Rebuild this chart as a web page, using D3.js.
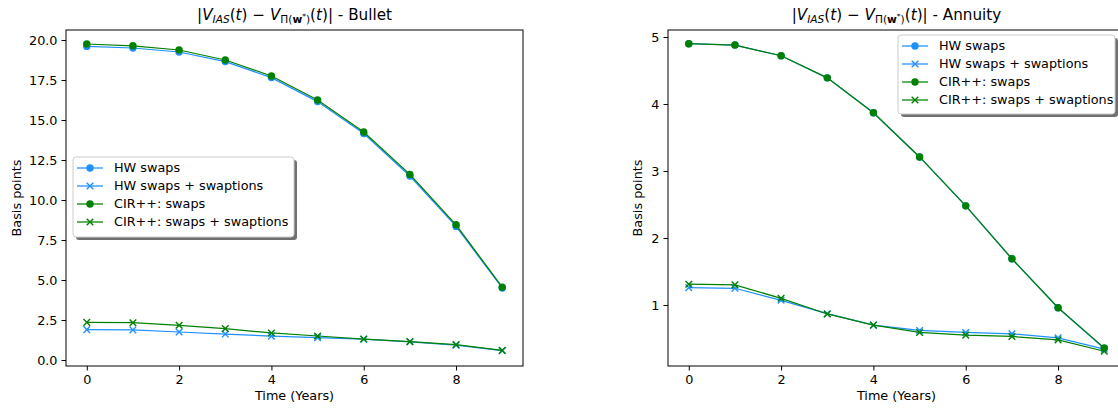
<!DOCTYPE html>
<html>
<head>
<meta charset="utf-8">
<script src="https://cdn.jsdelivr.net/npm/d3@7"></script>
<style>
  body { margin: 0; background: #fff; }
  text { font-family: "DejaVu Sans", sans-serif; fill: #000; }
</style>
</head>
<body>
<svg id="chart" width="1118" height="408"></svg>
<script>
// data
const years = [0, 1, 2, 3, 4, 5, 6, 7, 8, 9];

const bulletHwSwaps = [19.6, 19.5, 19.25, 18.65, 17.65, 16.15, 14.15, 11.5, 8.35, 4.5];
const bulletHwSwaptions = [1.9, 1.88, 1.75, 1.62, 1.49, 1.4, 1.3, 1.14, 0.93, 0.58];
const bulletCirSwaps = [19.75, 19.64, 19.375, 18.75, 17.75, 16.25, 14.25, 11.6, 8.45, 4.55];
const bulletCirSwaptions = [2.35, 2.33, 2.17, 1.96, 1.69, 1.5, 1.31, 1.15, 0.96, 0.6];

const annuityHwSwaps = [4.9, 4.88, 4.72, 4.39, 3.87, 3.21, 2.48, 1.69, 0.96, 0.35];
const annuityHwSwaptions = [1.26, 1.25, 1.07, 0.87, 0.70, 0.62, 0.59, 0.57, 0.51, 0.34];
const annuityCirSwaps = [4.9, 4.88, 4.72, 4.39, 3.87, 3.21, 2.48, 1.69, 0.96, 0.36];
const annuityCirSwaptions = [1.31, 1.30, 1.10, 0.866, 0.70, 0.59, 0.55, 0.53, 0.48, 0.31];

const seriesNames = ['HW swaps', 'HW swaps + swaptions', 'CIR++: swaps', 'CIR++: swaps + swaptions'];
const seriesColors = ['#1e90ff', '#1e90ff', '#008000', '#008000'];
const seriesMarkers = ['circle', 'x', 'circle', 'x'];

const xTicks = [0, 2, 4, 6, 8];
const bulletTicks = [0, 2.5, 5, 7.5, 10, 12.5, 15, 17.5, 20];
const annuityTicks = [1, 2, 3, 4, 5];

const svg = d3.select('#chart');
const fs = 12.8;

const panels = [
    {
        name: 'Bullet', left: 66, right: 523, top: 30, bottom: 366,
        yDomain: [-0.375, 20.625], yTicks: bulletTicks, fmt: d3.format('.1f'),
        series: [bulletHwSwaps, bulletHwSwaptions, bulletCirSwaps, bulletCirSwaptions],
        ylabelX: 17, legend: { x: 73, y: 157, w: 221, h: 80 }
    },
    {
        name: 'Annuity', left: 668, right: 1125, top: 30, bottom: 366,
        yDomain: [0.0896, 5.1045], yTicks: annuityTicks, fmt: d3.format('d'),
        series: [annuityHwSwaps, annuityHwSwaptions, annuityCirSwaps, annuityCirSwaptions],
        ylabelX: 638, legend: { x: 898, y: 35, w: 217, h: 79 }
    }
];

function drawMarker(g, type, x, y, color) {
    if (type === 'circle') {
        g.append('circle').attr('cx', x).attr('cy', y).attr('r', 3.7).attr('fill', color);
    } else {
        const s = 3.3;
        g.append('path')
            .attr('d', `M${x - s},${y - s}L${x + s},${y + s}M${x - s},${y + s}L${x + s},${y - s}`)
            .attr('stroke', color).attr('stroke-width', 1.4).attr('fill', 'none');
    }
}

function drawTitle(cx, suffix) {
    const t = svg.append('text').attr('x', cx).attr('y', 20)
        .attr('text-anchor', 'middle').attr('font-size', 15.2);
    const parts = [
        ['|', {}],
        ['V', { 'font-style': 'italic' }],
        ['IAS', { 'font-style': 'italic', 'font-size': 10.6, dy: 3 }],
        ['(', { dy: -3 }],
        ['t', { 'font-style': 'italic' }],
        [') \u2212 ', {}],
        ['V', { 'font-style': 'italic' }],
        ['\u03a0(', { 'font-size': 10.6, dy: 3 }],
        ['w', { 'font-size': 10.6, 'font-weight': 'bold' }],
        ['*', { 'font-size': 7.5, dy: -4 }],
        [')', { 'font-size': 10.6, dy: 4 }],
        ['(', { dy: -3 }],
        ['t', { 'font-style': 'italic' }],
        [')| - ' + suffix, {}]
    ];
    parts.forEach(([str, attrs]) => {
        const sp = t.append('tspan').text(str);
        Object.entries(attrs).forEach(([k, v]) => sp.attr(k, v));
    });
}

panels.forEach(p => {
    const x = d3.scaleLinear().domain([-0.45, 9.45]).range([p.left, p.right]);
    const y = d3.scaleLinear().domain(p.yDomain).range([p.bottom, p.top]);
    const g = svg.append('g');

    // lines and markers
    p.series.forEach((vals, i) => {
        const line = d3.line().x((d, j) => x(years[j])).y(d => y(d));
        g.append('path').datum(vals).attr('d', line)
            .attr('fill', 'none').attr('stroke', seriesColors[i]).attr('stroke-width', 1.25);
        vals.forEach((v, j) => drawMarker(g, seriesMarkers[i], x(years[j]), y(v), seriesColors[i]));
    });

    // frame
    g.append('rect').attr('x', p.left).attr('y', p.top)
        .attr('width', p.right - p.left).attr('height', p.bottom - p.top)
        .attr('fill', 'none').attr('stroke', '#000').attr('stroke-width', 1);

    // axes
    const xAxis = g.append('g').attr('transform', `translate(0,${p.bottom})`)
        .call(d3.axisBottom(x).tickValues(xTicks).tickSize(4.5).tickPadding(4).tickFormat(d3.format('d')));
    const yAxis = g.append('g').attr('transform', `translate(${p.left},0)`)
        .call(d3.axisLeft(y).tickValues(p.yTicks).tickSize(4.5).tickPadding(4).tickFormat(p.fmt));
    [xAxis, yAxis].forEach(a => {
        a.select('.domain').remove();
        a.attr('font-family', 'DejaVu Sans').attr('font-size', fs);
        a.selectAll('line').attr('stroke', '#000');
    });

    // labels
    svg.append('text').attr('x', (p.left + p.right) / 2).attr('y', 400)
        .attr('text-anchor', 'middle').attr('font-size', fs).text('Time (Years)');
    svg.append('text').attr('transform', `translate(${p.ylabelX},${(p.top + p.bottom) / 2}) rotate(-90)`)
        .attr('text-anchor', 'middle').attr('dy', '0.35em').attr('font-size', fs).text('Basis points');
    drawTitle((p.left + p.right) / 2, p.name);

    // legend
    const L = p.legend;
    const lg = svg.append('g');
    lg.append('rect').attr('x', L.x + 3).attr('y', L.y + 3).attr('width', L.w).attr('height', L.h)
        .attr('rx', 3).attr('fill', '#707070');
    lg.append('rect').attr('x', L.x).attr('y', L.y).attr('width', L.w).attr('height', L.h)
        .attr('rx', 3).attr('fill', '#fff').attr('stroke', '#cccccc');
    seriesNames.forEach((name, i) => {
        const ly = L.y + 11 + i * 18;
        lg.append('line').attr('x1', L.x + 4).attr('x2', L.x + 30).attr('y1', ly).attr('y2', ly)
            .attr('stroke', seriesColors[i]).attr('stroke-width', 1.25);
        drawMarker(lg, seriesMarkers[i], L.x + 17, ly, seriesColors[i]);
        lg.append('text').attr('x', L.x + 41).attr('y', ly).attr('dy', '0.35em')
            .attr('font-size', fs).text(name);
    });
});
</script>
</body>
</html>
